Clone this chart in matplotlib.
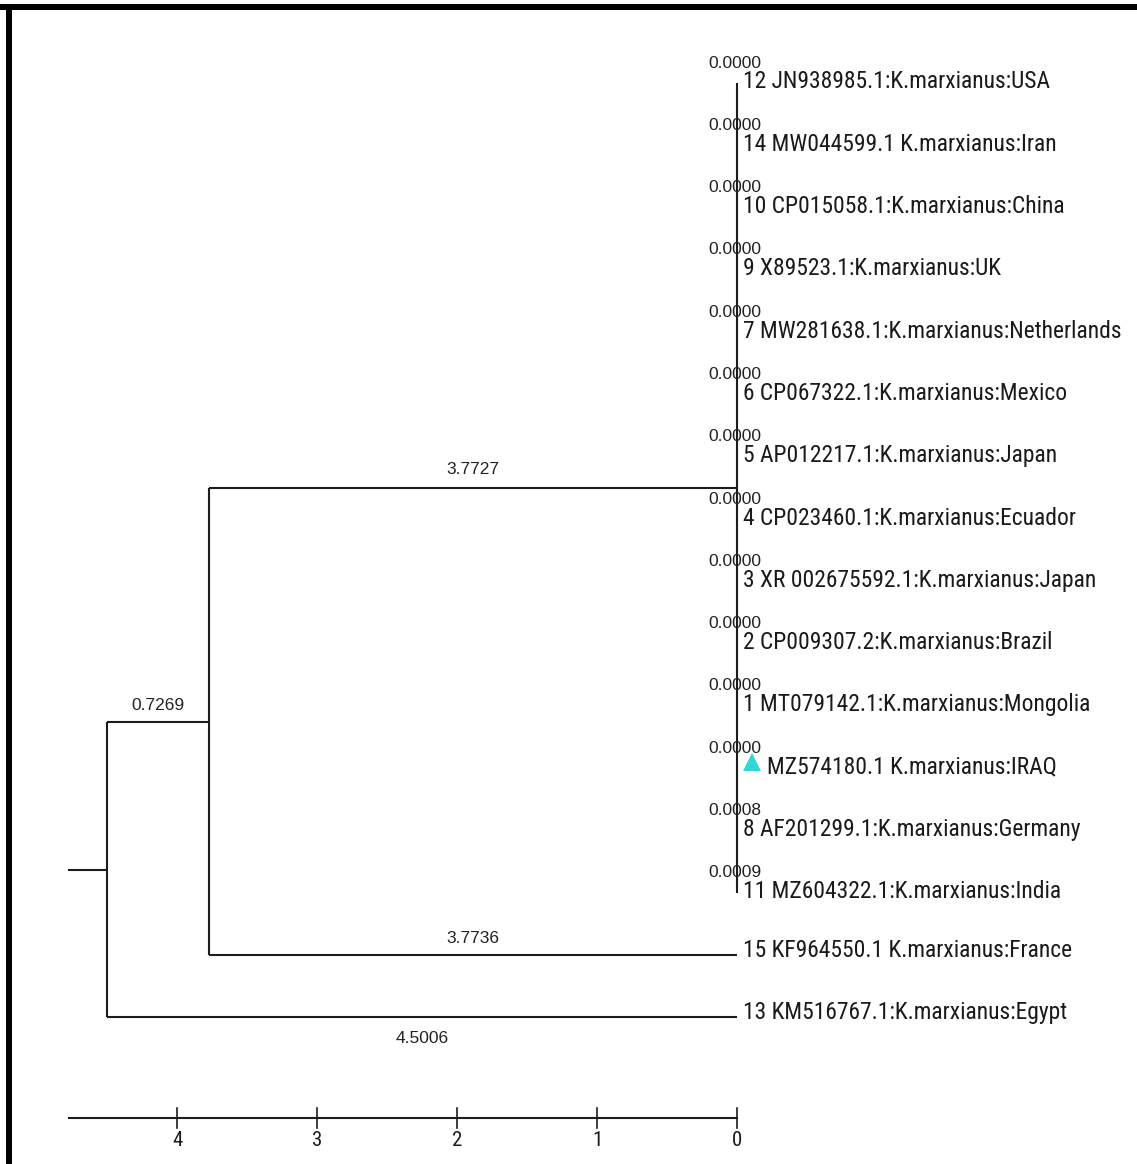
import matplotlib
matplotlib.use("Agg")
import matplotlib.pyplot as plt
from matplotlib.lines import Line2D
from matplotlib import font_manager as fm
from matplotlib.textpath import TextPath
import numpy as np

# ---------------- data ----------------
cluster_labels = [
    "12 JN938985.1:K.marxianus:USA",
    "14 MW044599.1 K.marxianus:Iran",
    "10 CP015058.1:K.marxianus:China",
    "9 X89523.1:K.marxianus:UK",
    "7 MW281638.1:K.marxianus:Netherlands",
    "6 CP067322.1:K.marxianus:Mexico",
    "5 AP012217.1:K.marxianus:Japan",
    "4 CP023460.1:K.marxianus:Ecuador",
    "3 XR 002675592.1:K.marxianus:Japan",
    "2 CP009307.2:K.marxianus:Brazil",
    "1 MT079142.1:K.marxianus:Mongolia",
    "MZ574180.1 K.marxianus:IRAQ",
    "8 AF201299.1:K.marxianus:Germany",
    "11 MZ604322.1:K.marxianus:India",
]
cluster_branch = [0.0000, 0.0000, 0.0000, 0.0000, 0.0000, 0.0000, 0.0000,
                  0.0000, 0.0000, 0.0000, 0.0000, 0.0000, 0.0008, 0.0009]
highlight_index = 11  # IRAQ sample (triangle marker)

france_label = "15 KF964550.1 K.marxianus:France"
egypt_label = "13 KM516767.1:K.marxianus:Egypt"

node2_len = 0.7269     # root -> inner node
cluster_len = 3.7727   # inner node -> cluster node
france_len = 3.7736    # inner node -> France
egypt_len = 4.5006     # root -> Egypt

scale_ticks = [4, 3, 2, 1, 0]

# ---------------- fonts ----------------
def pick_narrow():
    prefs = ["Liberation Sans Narrow", "Arial Narrow", "DejaVu Sans Condensed",
             "Noto Sans Condensed", "Roboto Condensed", "Open Sans Condensed"]
    fonts = [f for f in fm.fontManager.ttflist
             if f.style == "normal" and str(f.weight) in ("400", "normal", "regular", "book")]
    for p in prefs:
        for f in fonts:
            if f.name == p:
                return fm.FontProperties(fname=f.fname)
    for f in fonts:
        if f.name in ("DejaVu Sans", "Noto Sans", "Open Sans") and \
                str(f.stretch) in ("condensed", "semi-condensed", "75", "87"):
            return fm.FontProperties(fname=f.fname)
    for f in fonts:
        fn = f.fname.lower()
        if ("condensed" in fn or "narrow" in fn) and "bold" not in fn \
                and "italic" not in fn and "oblique" not in fn and "sans" in fn:
            return fm.FontProperties(fname=f.fname)
    return fm.FontProperties(family="Liberation Sans")

leaf_fp = pick_narrow()
# size leaf labels so the first label spans ~305 px (as in the reference)
_w = TextPath((0, 0), cluster_labels[0], size=17, prop=leaf_fp).get_extents().width
leaf_size = min(17.0, 17.0 * (305 * 0.72) / _w)

# ---------------- layout ----------------
W, H = 1137, 1164
fig = plt.figure(figsize=(W / 100, H / 100), dpi=100)
ax = fig.add_axes([0, 0, 1, 1])
ax.set_axis_off()

PX_X = 140.0   # px per unit branch length
PX_Y = 62.3    # px per row
X0 = 107.0     # root pixel x
Y0 = 83.0      # first row pixel y
ax.set_xlim(-X0 / PX_X, (W - X0) / PX_X)
ax.set_ylim((H - Y0) / PX_Y, -Y0 / PX_Y)

px = 1.0 / PX_X
py = 1.0 / PX_Y

LC = "#1c1c1c"
LW = 1.5
regular = ["Liberation Sans", "DejaVu Sans"]

n_cl = len(cluster_labels)
rows_cl = np.arange(n_cl)
row_fr = n_cl
row_eg = n_cl + 1

# node positions
root_x = 0.0
node2_x = root_x + node2_len
cluster_x = node2_x + cluster_len
france_x = node2_x + france_len
egypt_x = root_x + egypt_len
cluster_y = (rows_cl[0] + rows_cl[-1]) / 2
node2_y = (cluster_y + row_fr) / 2
root_y = (node2_y + row_eg) / 2
tip_ref = egypt_x  # 0 on scale bar

def seg(x1, y1, x2, y2):
    ax.plot([x1, x2], [y1, y2], color=LC, lw=LW, solid_capstyle="butt")

seg(root_x - 39 * px, root_y, root_x, root_y)          # root stub
seg(root_x, node2_y, root_x, row_eg)                   # root vertical
seg(root_x, node2_y, node2_x, node2_y)                 # root -> node2
seg(root_x, row_eg, egypt_x, row_eg)                   # root -> Egypt
seg(node2_x, cluster_y, node2_x, row_fr)               # node2 vertical
seg(node2_x, cluster_y, cluster_x, cluster_y)          # node2 -> cluster
seg(node2_x, row_fr, france_x, row_fr)                 # node2 -> France
seg(cluster_x, rows_cl[0], cluster_x, rows_cl[-1])     # cluster vertical
for r, bl in zip(rows_cl, cluster_branch):
    seg(cluster_x, r, cluster_x + bl, r)

# branch length labels
lab_kw = dict(fontsize=12.5, family=regular, color="#222222", ha="center", va="center")
ax.text((node2_x + cluster_x) / 2, cluster_y - 18 * py, f"{cluster_len:.4f}", **lab_kw)
ax.text((root_x + node2_x) / 2, node2_y - 16 * py, f"{node2_len:.4f}", **lab_kw)
ax.text((node2_x + france_x) / 2, row_fr - 17 * py, f"{france_len:.4f}", **lab_kw)
ax.text((root_x + egypt_x) / 2, row_eg + 21 * py, f"{egypt_len:.4f}", **lab_kw)

for r, bl in zip(rows_cl, cluster_branch):
    ax.text(cluster_x + bl - 2 * px, r - 20 * py, f"{bl:.4f}", **lab_kw)

# leaf labels
leaf_kw = dict(fontproperties=leaf_fp, fontsize=leaf_size, color="#1a1a1a",
               va="center", ha="left")
for r, bl, lab in zip(rows_cl, cluster_branch, cluster_labels):
    tx = cluster_x + bl
    if r == highlight_index:
        ax.plot([tx + 15 * px], [r - 6 * py], marker="^", markersize=13,
                color="#33d6d6", markeredgewidth=0, linestyle="none")
        ax.text(tx + 30 * px, r - 1 * py, lab, **leaf_kw)
    else:
        ax.text(tx + 6 * px, r - 1 * py, lab, **leaf_kw)
ax.text(france_x + 6 * px, row_fr - 5 * py, france_label, **leaf_kw)
ax.text(egypt_x + 6 * px, row_eg - 5 * py, egypt_label, **leaf_kw)

# scale bar
bar_y = (1118 - Y0) * py
bar_left = tip_ref - 4.77
ax.plot([bar_left, tip_ref], [bar_y, bar_y], color=LC, lw=LW)
for t in scale_ticks:
    xt = tip_ref - t
    ax.plot([xt, xt], [bar_y - 10 * py, bar_y + 10 * py], color=LC, lw=1.2)
    ax.text(xt, bar_y + 22 * py, str(t), fontproperties=leaf_fp, fontsize=15,
            color="#1a1a1a", ha="center", va="center")

# frame (top and left only, like the cropped screenshot)
fig.add_artist(Line2D([0, 1], [1 - 7 / H, 1 - 7 / H], transform=fig.transFigure,
                      color="black", lw=6 * 0.72, solid_capstyle="butt"))
fig.add_artist(Line2D([9 / W, 9 / W], [0, 1 - 4 / H], transform=fig.transFigure,
                      color="black", lw=6 * 0.72, solid_capstyle="butt"))

fig.savefig("out.png", dpi=100, facecolor="white")
